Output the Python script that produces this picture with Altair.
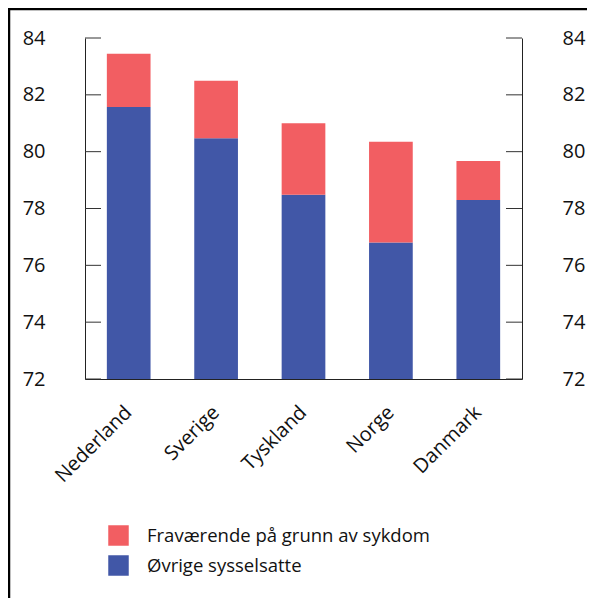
import altair as alt
import pandas as pd

countries = ["Nederland", "Sverige", "Tyskland", "Norge", "Danmark"]
ovrige = [81.57, 80.47, 78.48, 76.8, 78.3]      # top of blue segment
total = [83.45, 82.5, 81.0, 80.35, 79.67]      # top of red segment
series = ["Fraværende på grunn av sykdom", "Øvrige sysselsatte"]
colors = ["#F25E62", "#4157A7"]
y_ticks = [72, 74, 76, 78, 80, 82, 84]
y_min, y_max = 72, 84

rows = []
for c, o, t in zip(countries, ovrige, total):
    rows.append({"land": c, "serie": series[1], "start": y_min, "end": o})
    rows.append({"land": c, "serie": series[0], "start": o, "end": t})
df = pd.DataFrame(rows)
ticks_df = pd.DataFrame({"t": y_ticks})

W, H = 437, 341
yscale = alt.Scale(domain=[y_min, y_max], nice=False, zero=False)

bars = alt.Chart(df).mark_bar().encode(
    x=alt.X("land:N", sort=countries, title=None,
            scale=alt.Scale(paddingInner=0.5, paddingOuter=0.25),
            axis=alt.Axis(ticks=False, domain=True, domainColor="#222", labelAngle=-45,
                          labelAlign="right", labelBaseline="middle", labelPadding=30,
                          labelFontSize=20, labelColor="#111")),
    y=alt.Y("start:Q", scale=yscale, title=None,
            axis=alt.Axis(orient="left", values=y_ticks, ticks=False, domain=True,
                          domainColor="#222", labelPadding=40, labelFontSize=20,
                          labelColor="#111", grid=False)),
    y2="end:Q",
    color=alt.Color("serie:N", scale=alt.Scale(domain=series, range=colors), title=None,
                    legend=alt.Legend(orient="none", legendX=23, legendY=487,
                                      symbolType="square", symbolSize=420,
                                      symbolStrokeWidth=0, labelFontSize=18.5,
                                      labelOffset=18, rowPadding=9, padding=0,
                                      labelColor="#111", labelLimit=400)),
    order=alt.Order("start:Q"),
)

left_ticks = alt.Chart(ticks_df).mark_rule(color="#333", strokeWidth=1).encode(
    y=alt.Y("t:Q", scale=yscale, axis=None),
    x=alt.value(0), x2=alt.value(16),
)

right_ticks = alt.Chart(ticks_df).mark_rule(color="#333", strokeWidth=1).encode(
    y=alt.Y("t:Q", scale=yscale, title=None,
            axis=alt.Axis(orient="right", values=y_ticks, ticks=False, domain=True,
                          domainColor="#222", labelPadding=40, labelFontSize=20,
                          labelColor="#111", grid=False)),
    x=alt.value(W - 16), x2=alt.value(W),
)

frame = alt.Chart(pd.DataFrame({"f": [1]})).mark_rect(
    fill=None, stroke="black", strokeWidth=2.5).encode(
    x=alt.value(-76), x2=alt.value(W + 200),
    y=alt.value(-29), y2=alt.value(H + 300),
)

chart = alt.layer(frame, bars, left_ticks, right_ticks).resolve_axis(
    y="independent"
).properties(
    width=W, height=H,
    autosize=alt.AutoSizeParams(type="none"),
    padding={"left": 77, "top": 30, "right": 65, "bottom": 219},
    background="white",
).configure(font="Open Sans").configure_view(stroke="transparent", strokeWidth=0)

chart.save("out.html", embed_options={"renderer": "svg", "actions": False})
